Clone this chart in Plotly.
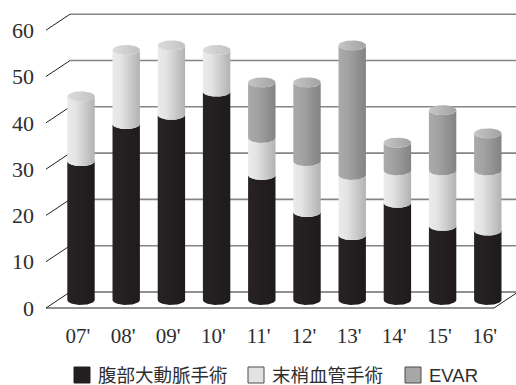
import numpy as np
import plotly.graph_objects as go

# Yearly surgery counts (stacked cylinders)
years = ["07'", "08'", "09'", "10'", "11'", "12'", "13'", "14'", "15'", "16'"]
aaa = [30, 38, 40, 45, 27, 19, 14, 21, 16, 15]          # 腹部大動脈手術
peripheral = [14, 16, 15, 9, 8, 11, 13, 7, 12, 13]     # 末梢血管手術
evar = [0, 0, 0, 0, 12, 17, 28, 6, 13, 8]              # EVAR
y_ticks = [0, 10, 20, 30, 40, 50, 60]

series = [
    ("腹部大動脈手術", aaa, [[0, "#272324"], [1, "#1f1b1c"]], [[0, "#3a3637"], [1, "#2a2627"]], "#231f20", "#231f20"),
    ("末梢血管手術", peripheral, [[0, "#ebebeb"], [0.3, "#e4e4e4"], [1, "#b2b2b2"]], [[0, "#dcdcdc"], [1, "#c2c2c2"]], "#e2e2e2", "#4a4a4a"),
    ("EVAR", evar, [[0, "#aaaaaa"], [0.35, "#a2a2a2"], [1, "#838383"]], [[0, "#c6c6c6"], [1, "#a2a2a2"]], "#a7a7a7", "#4a4a4a"),
]

SERIF = "Liberation Serif, Times New Roman, DejaVu Serif, serif"
CJK_FONT = "DejaVu Sans, Noto Sans CJK JP, sans-serif"
LATIN_FONT = "Liberation Sans, Arial, sans-serif"

# Oblique-projection geometry (x in category units, y in value units)
PX_CAT = 45.2
PX_UNIT = 4.63
DX = 12 / PX_CAT          # half depth, horizontal
DY = 8 / PX_UNIT          # half depth, vertical
RX = 13.7 / PX_CAT        # cylinder radius
RY = 5.0 / PX_UNIT        # ellipse half-height
X_LEFT = -0.774           # front-left floor corner
X_RIGHT = 9.137           # front-right floor corner

fig = go.Figure()

theta = np.linspace(np.pi, 2 * np.pi, 41)
cx_arc = np.cos(theta) * RX
cy_arc = np.sin(theta) * RY
full = np.linspace(0, 2 * np.pi, 81)

for i in range(len(years)):
    base = 0.0
    top_seg = None
    for name, vals, body_cs, top_cs, _, _ in series:
        v = vals[i]
        if v <= 0:
            continue
        y0 = base + DY
        y1 = base + v + DY
        xs = np.concatenate([i + cx_arc, (i + cx_arc)[::-1], [i + cx_arc[0]]])
        ys = np.concatenate([y0 + cy_arc, (y1 + cy_arc)[::-1], [y0 + cy_arc[0]]])
        fig.add_trace(go.Scatter(
            x=xs, y=ys, mode="lines", fill="toself", line=dict(width=0),
            fillgradient=dict(type="horizontal", colorscale=body_cs),
            hoverinfo="skip", showlegend=False))
        base += v
        top_seg = top_cs
    # top cap
    yt = base + DY
    fig.add_trace(go.Scatter(
        x=i + np.cos(full) * RX, y=yt + np.sin(full) * RY,
        mode="lines", fill="toself", line=dict(width=0),
        fillgradient=dict(type="horizontal", colorscale=top_seg),
        hoverinfo="skip", showlegend=False))

# Back wall gridlines and left-side depth lines
shapes = []
for v in y_ticks:
    shapes.append(dict(type="line", xref="x", yref="y", layer="below",
                       x0=X_LEFT + 2 * DX, y0=v + 2 * DY, x1=X_RIGHT + 2 * DX + 1, y1=v + 2 * DY,
                       line=dict(color="#222222" if v == 0 else "#858585", width=1 if v == 0 else 1.6)))
    shapes.append(dict(type="line", xref="x", yref="y", layer="below",
                       x0=X_LEFT, y0=v, x1=X_LEFT + 2 * DX, y1=v + 2 * DY,
                       line=dict(color="#222222", width=1)))
# Floor front edge and right depth edge
shapes.append(dict(type="line", xref="x", yref="y", layer="below",
                   x0=X_LEFT, y0=0, x1=X_RIGHT, y1=0, line=dict(color="#222222", width=1)))
shapes.append(dict(type="line", xref="x", yref="y", layer="below",
                   x0=X_RIGHT, y0=0, x1=X_RIGHT + 2 * DX, y1=2 * DY, line=dict(color="#222222", width=1)))

W, H = 516, 385
ML, MB = 40, 65
plot_w = W - ML
plot_h = H - MB
x0_range = (ML - 81) / PX_CAT
x1_range = x0_range + plot_w / PX_CAT
y1_range = 308 / PX_UNIT
y0_range = y1_range - plot_h / PX_UNIT


def px_to_paper_x(px):
    return (px - ML) / plot_w


def px_to_paper_y(py):
    return (plot_h - py) / plot_h


# Legend row below the chart: swatch + label per series
legend_row_y = 375
legend_swatch_left = [74, 248, 405]
SW = 16
annotations = []
for (name, _, _, _, fill, edge), sx in zip(series, legend_swatch_left):
    shapes.append(dict(type="rect", xref="paper", yref="paper",
                       x0=px_to_paper_x(sx), x1=px_to_paper_x(sx + SW),
                       y0=px_to_paper_y(legend_row_y - SW / 2), y1=px_to_paper_y(legend_row_y + SW / 2),
                       fillcolor=fill, line=dict(color=edge, width=1)))
    family = LATIN_FONT if name.isascii() else CJK_FONT
    annotations.append(dict(xref="paper", yref="paper", x=px_to_paper_x(sx + SW + 6),
                            y=px_to_paper_y(legend_row_y), text=name, showarrow=False,
                            xanchor="left", yanchor="middle",
                            font=dict(family=family, size=18.5, color="#2e2e2e")))

fig.update_layout(
    width=W, height=H,
    margin=dict(l=ML, r=0, t=0, b=MB),
    paper_bgcolor="white", plot_bgcolor="white",
    shapes=shapes,
    annotations=annotations,
    xaxis=dict(range=[x0_range, x1_range], showgrid=False, zeroline=False, showline=False,
               tickmode="array", tickvals=[i - 0.07 for i in range(len(years))], ticktext=years,
               ticks="", ticklabelstandoff=1,
               tickfont=dict(family=SERIF, size=21, color="#2e2e2e")),
    yaxis=dict(range=[y0_range, y1_range], showgrid=False, zeroline=False, showline=False,
               tickmode="array", tickvals=y_ticks, ticks="", ticklabelstandoff=5,
               tickfont=dict(family=SERIF, size=22, color="#2e2e2e")),
    showlegend=False,
)

fig.write_html("out.html")
